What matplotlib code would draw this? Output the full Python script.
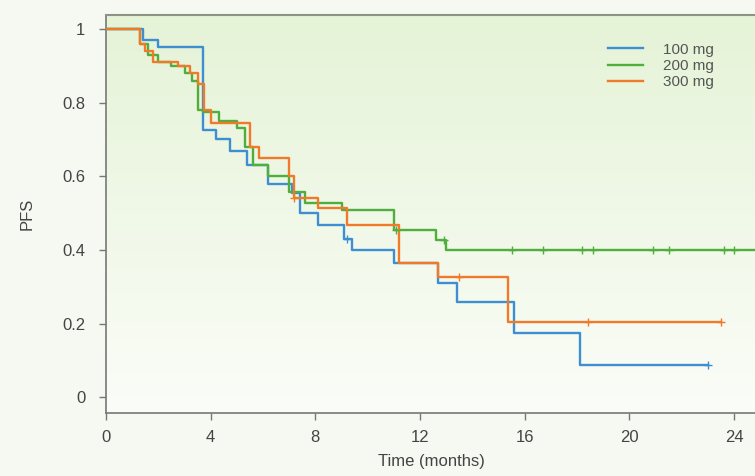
import numpy as np
import matplotlib
matplotlib.use("Agg")
import matplotlib.pyplot as plt
from matplotlib.colors import LinearSegmentedColormap

plt.rcParams["font.family"] = ["Liberation Sans", "DejaVu Sans"]

# Kaplan-Meier steps (time in months, PFS)
T_100 = [0, 1.4, 2.0, 3.7, 4.2, 4.75, 5.4, 6.2, 7.1, 7.4, 8.1, 9.1, 9.4, 11.0, 12.7, 13.4, 15.6, 18.1, 23.0]
S_100 = [1.0, 0.97, 0.95, 0.725, 0.70, 0.67, 0.63, 0.58, 0.555, 0.50, 0.467, 0.43, 0.40, 0.364, 0.31, 0.258, 0.174, 0.087, 0.087]
C_100 = [9.2, 23.0]

T_200 = [0, 1.3, 1.6, 2.0, 2.5, 3.0, 3.3, 3.5, 3.7, 4.3, 5.0, 5.3, 5.6, 6.2, 7.0, 7.6, 9.0, 11.0, 12.6, 13.0, 24.8]
S_200 = [1.0, 0.96, 0.93, 0.91, 0.90, 0.88, 0.86, 0.78, 0.775, 0.75, 0.73, 0.68, 0.63, 0.60, 0.557, 0.527, 0.508, 0.454, 0.427, 0.40, 0.40]
C_200 = [11.1, 12.9, 15.5, 16.7, 18.2, 18.6, 20.9, 21.5, 23.6, 24.0]

T_300 = [0, 1.3, 1.5, 1.8, 2.75, 3.2, 3.5, 3.75, 4.0, 5.5, 5.85, 7.0, 7.2, 8.1, 9.2, 11.2, 12.7, 15.35, 23.5]
S_300 = [1.0, 0.96, 0.94, 0.91, 0.90, 0.88, 0.85, 0.78, 0.745, 0.68, 0.65, 0.60, 0.54, 0.515, 0.467, 0.364, 0.326, 0.204, 0.204]
C_300 = [7.2, 13.5, 18.4, 23.5]

LABELS = ["100 mg", "200 mg", "300 mg"]
COLORS = ["#3d8fd1", "#4fae3c", "#f07a2a"]
XTICKS = [0, 4, 8, 12, 16, 20, 24]
YTICKS = [0, 0.2, 0.4, 0.6, 0.8, 1]
YTICKLABELS = ["0", "0.2", "0.4", "0.6", "0.8", "1"]


def surv_at(times, surv, t):
    idx = np.searchsorted(times, t, side="right") - 1
    return surv[max(idx, 0)]


fig = plt.figure(figsize=(7.55, 4.76), dpi=100, facecolor="#f5f9f1")
ax = fig.add_axes([0.1404, 0.1324, 0.862, 0.836])

# soft green gradient background
grad = LinearSegmentedColormap.from_list("bg", ["#fbfdf8", "#e5f3d7"])
ax.imshow(np.linspace(0, 1, 256).reshape(-1, 1), cmap=grad, aspect="auto",
          extent=(0, 1, 0, 1), transform=ax.transAxes, origin="lower", zorder=0)

groups = [(T_100, S_100, C_100), (T_200, S_200, C_200), (T_300, S_300, C_300)]
for (ts, ss, cs), label, color in zip(groups, LABELS, COLORS):
    ax.step(ts, ss, where="post", color=color, lw=1.7, label=label, zorder=3)
    cy = [surv_at(ts, ss, c) for c in cs]
    ax.plot(cs, cy, ls="none", marker="+", ms=6, mew=1.0, color=color, zorder=4)

ax.set_xlim(0, 24.87)
ax.set_ylim(-0.043, 1.038)
ax.set_xticks(XTICKS)
ax.set_yticks(YTICKS)
ax.set_yticklabels(YTICKLABELS)
ax.tick_params(direction="out", length=5, width=1, color="#777777",
               labelcolor="#444444", labelsize=12)
ax.tick_params(axis="y", pad=10)
ax.tick_params(axis="x", pad=7)
ax.set_xlabel("Time (months)", fontsize=12, color="#444444", labelpad=7)
ax.set_ylabel("PFS", fontsize=12, color="#444444", labelpad=20)

for side in ("left", "bottom"):
    ax.spines[side].set_color("#777777")
    ax.spines[side].set_linewidth(1.2)
ax.spines["top"].set_color("#8a9683")
ax.spines["top"].set_linewidth(1.5)
ax.spines["right"].set_visible(False)

leg = ax.legend(loc="upper right", bbox_to_anchor=(0.955, 0.965), frameon=False,
                fontsize=11, handlelength=2.3, labelspacing=0.15, handletextpad=1.3)
for txt in leg.get_texts():
    txt.set_color("#555555")

fig.savefig("out.png", dpi=100, facecolor=fig.get_facecolor())
